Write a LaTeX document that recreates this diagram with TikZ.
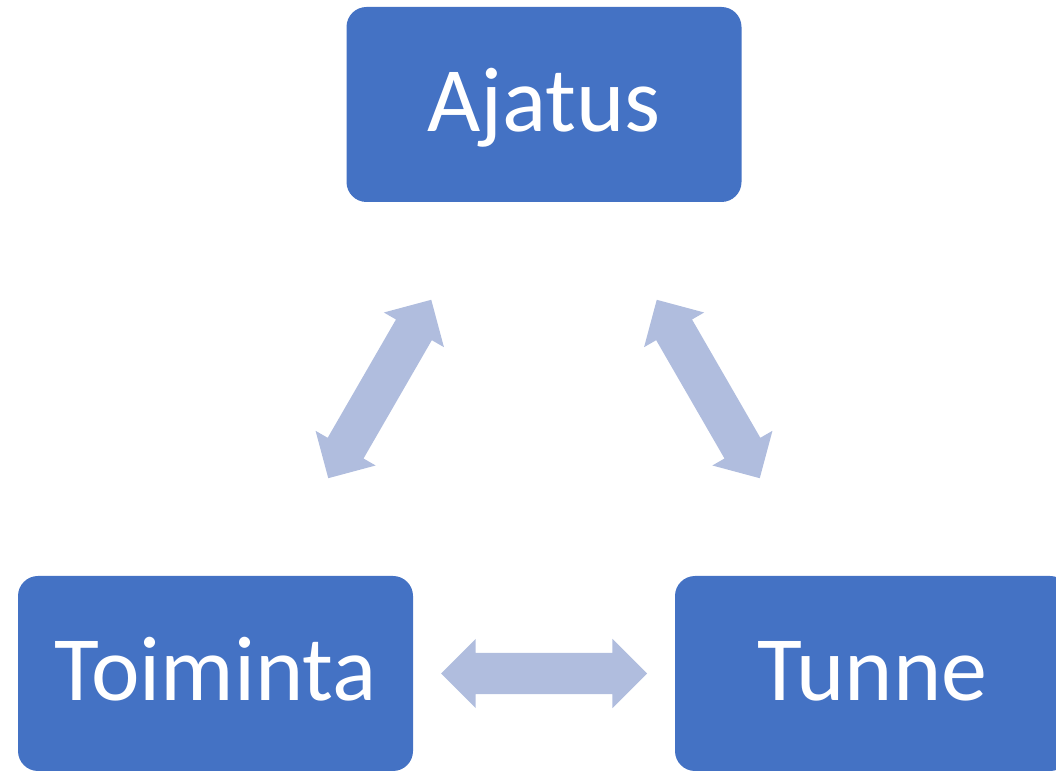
\documentclass[tikz,border=0pt]{standalone}
\usepackage{fontspec}
\setmainfont{Carlito}
\usetikzlibrary{shapes.arrows}

\definecolor{boxblue}{HTML}{4472C4}
\definecolor{arrowblue}{HTML}{B0BDDE}

\begin{document}
\begin{tikzpicture}[x=1pt,y=1pt,
  box/.style={fill=boxblue,rounded corners=20pt,minimum width=395pt,minimum height=195pt,
    inner sep=0pt,text=white,font=\fontsize{92}{110}\selectfont,text height=59pt,text depth=5pt},
  twoway/.style={double arrow,fill=arrowblue,minimum height=206pt,minimum width=69pt,
    inner xsep=0pt,inner ysep=20.5pt,double arrow tip angle=90,double arrow head extend=14pt}]

\useasboundingbox (0,0) rectangle (1056,770);

\node[box] (ajatus) at (544,665.5) {Ajatus};
\node[box] (toiminta) at (215.5,96.5) {Toiminta};
\node[box] (tunne) at (872.5,96.5) {Tunne};

\path (toiminta.center) -- node[twoway,sloped] {} (ajatus.center);
\path (ajatus.center) -- node[twoway,sloped] {} (tunne.center);
\path (toiminta.center) -- node[twoway,sloped] {} (tunne.center);
\end{tikzpicture}
\end{document}
